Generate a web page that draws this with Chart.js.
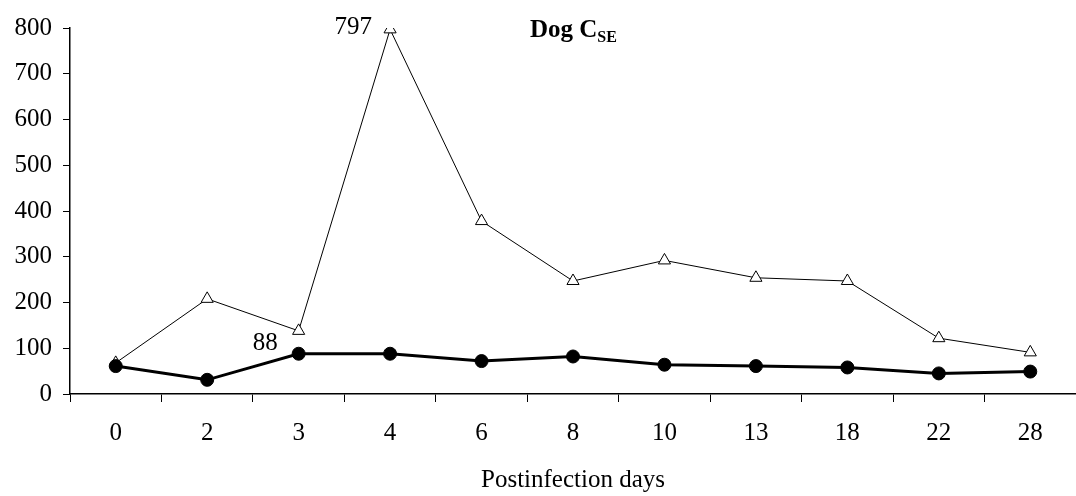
<!DOCTYPE html>
<html>
<head>
<meta charset="utf-8">
<script src="https://cdn.jsdelivr.net/npm/chart.js@4/dist/chart.umd.min.js"></script>
<style>
  html, body { margin: 0; padding: 0; background: #ffffff; }
  #wrap { width: 1076px; height: 496px; }
</style>
</head>
<body>
<div id="wrap"><canvas id="grafico" width="1076" height="496"></canvas></div>
<script>
// DADOS DO GRÁFICO
const dias = ["0", "2", "3", "4", "6", "8", "10", "13", "18", "22", "28"];
const serieCirculos = [61, 31, 88, 88, 72, 82, 64, 61, 58, 45, 49];
const serieTriangulos = [68, 208, 138, 797, 378, 247, 292, 254, 247, 122, 91];
const ticksY = [0, 100, 200, 300, 400, 500, 600, 700, 800];

const fonteSerif = "'Liberation Serif', 'Times New Roman', serif";

// PLUGIN: título e rótulos de valor
const textosExtras = {
    id: "textosExtras",
    afterDatasetsDraw(chart) {
        const ctx = chart.ctx;
        const x = chart.scales.x;
        const y = chart.scales.y;

        ctx.save();
        ctx.fillStyle = "#000";

        // Título "Dog C" com subscrito "SE"
        ctx.font = "bold 25px " + fonteSerif;
        ctx.textAlign = "left";
        ctx.textBaseline = "alphabetic";
        ctx.fillText("Dog C", 530, 37);
        const w = ctx.measureText("Dog C").width;
        ctx.font = "bold 16px " + fonteSerif;
        ctx.fillText("SE", 530 + w, 42);

        // Rótulo do pico
        ctx.font = "25px " + fonteSerif;
        ctx.textAlign = "right";
        ctx.textBaseline = "middle";
        ctx.fillText(String(serieTriangulos[3]),
            x.getPixelForValue(3) - 18, y.getPixelForValue(serieTriangulos[3]) - 2);

        // Rótulo do dia 3
        ctx.fillText(String(serieCirculos[2]),
            x.getPixelForValue(2) - 21, y.getPixelForValue(serieCirculos[2]) - 10);

        ctx.restore();
    }
};

new Chart(document.getElementById("grafico"), {
    type: "line",
    data: {
        labels: dias,
        datasets: [
            // CÍRCULOS (desenhado por cima)
            {
                data: serieCirculos,
                borderColor: "#000",
                borderWidth: 3,
                pointStyle: "circle",
                pointRadius: 6.5,
                pointBackgroundColor: "#000",
                pointBorderColor: "#000",
                pointBorderWidth: 1,
                tension: 0
            },
            // TRIÂNGULOS
            {
                data: serieTriangulos,
                borderColor: "#000",
                borderWidth: 1,
                pointStyle: "triangle",
                pointRadius: 7,
                pointBackgroundColor: "#fff",
                pointBorderColor: "#000",
                pointBorderWidth: 1,
                tension: 0
            }
        ]
    },
    options: {
        responsive: false,
        animation: false,
        events: [],
        layout: {
            autoPadding: false,
            padding: { top: 28, right: -3, left: 0, bottom: 0 }
        },
        plugins: {
            legend: { display: false },
            tooltip: { enabled: false }
        },
        scales: {
            x: {
                offset: true,
                grid: {
                    offset: true,
                    drawOnChartArea: false,
                    drawTicks: true,
                    tickLength: 8,
                    color: "#000"
                },
                border: { display: true, color: "#000", width: 1.5 },
                ticks: {
                    color: "#000",
                    padding: 16,
                    maxRotation: 0,
                    font: { family: fonteSerif, size: 25 }
                },
                title: {
                    display: true,
                    text: "Postinfection days",
                    color: "#000",
                    padding: { top: 0, bottom: 1 },
                    font: { family: fonteSerif, size: 25 }
                },
                afterFit: (escala) => {
                    escala.height = 102;
                    escala.paddingLeft = 0;
                    escala.paddingRight = 0;
                }
            },
            y: {
                min: ticksY[0],
                max: ticksY[ticksY.length - 1],
                afterBuildTicks: (escala) => {
                    escala.ticks = ticksY.map((v) => ({ value: v }));
                },
                grid: {
                    drawOnChartArea: false,
                    drawTicks: true,
                    tickLength: 7,
                    color: "#000"
                },
                border: { display: true, color: "#000", width: 1.5 },
                ticks: {
                    color: "#000",
                    padding: 11,
                    font: { family: fonteSerif, size: 25 }
                },
                afterFit: (escala) => { escala.width = 70; }
            }
        }
    },
    plugins: [textosExtras]
});
</script>
</body>
</html>
